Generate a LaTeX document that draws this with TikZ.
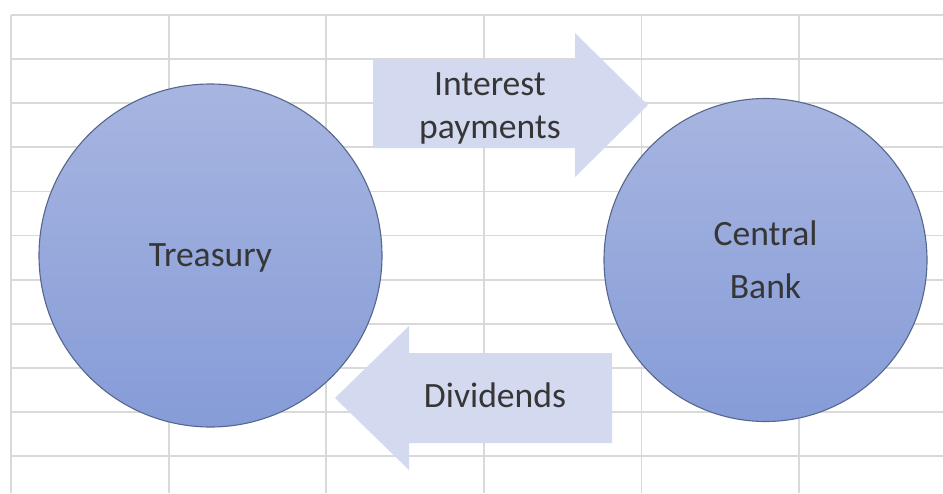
\documentclass[tikz,border=0pt]{standalone}
\usepackage{fontspec}
\setmainfont{Carlito}
\begin{document}
\definecolor{gridline}{HTML}{D9D9D9}
\definecolor{disctop}{HTML}{A7B5E0}
\definecolor{discbottom}{HTML}{869CD8}
\definecolor{discedge}{HTML}{56678C}
\definecolor{arrowfill}{HTML}{D3D9EF}
\definecolor{labelgray}{HTML}{363636}
\newcommand{\labelfont}{\fontsize{35.6pt}{44pt}\selectfont}
\begin{tikzpicture}[x=1pt,y=-1pt,
  gridrule/.style={draw=gridline, line width=1.8pt},
  disc/.style={circle, draw=discedge, line width=1.1pt,
    top color=disctop, bottom color=discbottom,
    inner sep=0pt, text=labelgray, font=\labelfont, align=center, text depth=0pt},
  blockarrow/.style={fill=arrowfill, draw=none},
  flowlabel/.style={text=labelgray, font=\labelfont, align=center, inner sep=0pt}]
  \useasboundingbox (0,0) rectangle (943,493);
  \fill[white] (0,0) rectangle (943,493);

  % spreadsheet cell grid
  \foreach \i in {0,...,10}
    \draw[gridrule] (11,{15+44.1*\i}) -- (943,{15+44.1*\i});
  \foreach \i in {0,...,5}
    \draw[gridrule] ({11+157.6*\i},15) -- ({11+157.6*\i},493);

  % the two parties
  \node[disc, minimum size=343pt] (treasury) at (210.5,255.5) {Treasury};
  \node[disc, minimum size=323pt] (bank) at (765.5,260) {Central\\[9pt]Bank};

  % flow from treasury to the bank
  \fill[blockarrow] (373,60) -- (575,60) -- (575,33) -- (648,105)
    -- (575,177) -- (575,148) -- (373,148) -- cycle;
  \node[flowlabel, anchor=north, font=\fontsize{35.6pt}{43pt}\selectfont]
    (interest) at (490,72.5) {Interest\\payments};

  % flow from the bank back to the treasury
  \fill[blockarrow] (612,353) -- (409,353) -- (409,326) -- (335,398)
    -- (409,470) -- (409,443) -- (612,443) -- cycle;
  \node[flowlabel] (dividends) at (495,395) {Dividends};
\end{tikzpicture}
\end{document}
